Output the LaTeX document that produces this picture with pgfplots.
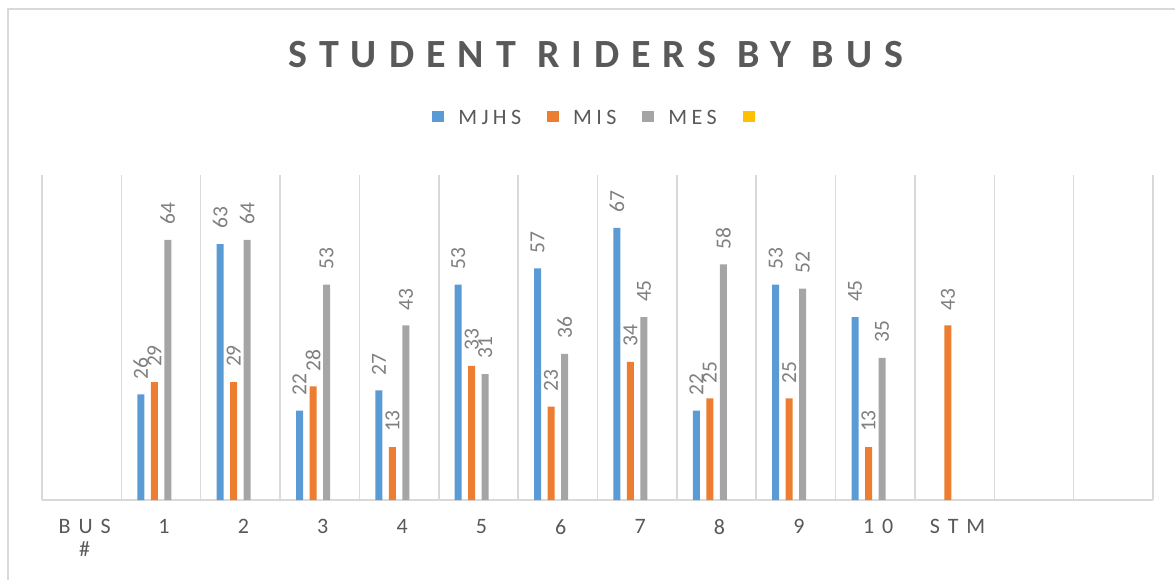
\documentclass[border=0pt]{standalone}
\usepackage{graphicx}
\usepackage{pgfplots}
\pgfplotsset{compat=1.18}
\usepackage{fontspec}
\setmainfont{Carlito}
\newfontfamily\titlefont[LetterSpace=30]{Carlito}
\newfontfamily\tickfont[LetterSpace=36]{Carlito}
\newfontfamily\legfont[LetterSpace=20]{Carlito}
\definecolor{cblue}{HTML}{5B9BD5}
\definecolor{corange}{HTML}{ED7D31}
\definecolor{cgray}{HTML}{A5A5A5}
\definecolor{cyellow}{HTML}{FFC000}
\definecolor{cgrid}{HTML}{D9D9D9}
\definecolor{ctext}{HTML}{595959}
\definecolor{clabel}{HTML}{7F7F7F}
\pgfplotsset{
  mybar/.style={ybar, bar width=7pt, draw=none,
    legend image code/.code={\fill[##1, draw=none] (0pt,-4pt) rectangle (12pt,7pt);}},
}
\begin{document}
\begin{tikzpicture}
\useasboundingbox (0,0) rectangle (1175pt,579pt);
\draw[cgrid, line width=2pt] (8pt,-10pt) -- (8pt,570pt) -- (1190pt,570pt);
\node[font=\titlefont\bfseries\fontsize{40}{42}\selectfont, text=ctext, inner sep=0pt] at (596pt,524pt) {STUDENT RIDERS BY BUS};
\begin{axis}[
  at={(42pt,79pt)}, anchor=south west,
  scale only axis, width=1111pt, height=325pt,
  xmin=-0.5, xmax=13.5, ymin=0, ymax=80,
  axis line style={draw=none},
  ytick=\empty,
  extra y ticks={0}, extra y tick labels={},
  extra y tick style={grid=major, major grid style={cgrid, line width=2pt}},
  xtick={0,...,11},
  xticklabels={{BUS\\\#},1,2,3,4,5,6,7,8,9,10,STM},
  minor xtick={-0.5,0.5,...,13.5},
  xminorgrids=true, minor grid style={cgrid, line width=1.5pt},
  major tick length=0pt, minor tick length=0pt,
  xticklabel style={font=\tickfont\fontsize{22}{23.5}\selectfont, text=ctext, align=center, inner sep=0pt, xshift=3pt},
  xticklabel shift=19pt,
  clip=false,
  /pgf/number format/assume math mode=true,
  nodes near coords={\rotatebox{90}{\pgfmathprintnumber{\pgfplotspointmeta}}},
  every node near coord/.append style={anchor=south, inner ysep=15pt, inner xsep=0pt, font=\fontsize{21.5}{24}\selectfont, text=clabel},
  legend columns=4,
  legend style={draw=none, fill=none, at={(0.5,1)}, anchor=center, xshift=4pt, yshift=57pt,
    font=\legfont\fontsize{22}{25}\selectfont, text=ctext,
    /tikz/every odd column/.append style={column sep=12pt},
    /tikz/every even column/.append style={column sep=24pt}},
]
\addplot[mybar, fill=cblue, bar shift=-20.25pt, every node near coord/.append style={xshift=-20.25pt}] coordinates {(1,26) (2,63) (3,22) (4,27) (5,53) (6,57) (7,67) (8,22) (9,53) (10,45)};
\addlegendentry{MJHS}
\addplot[mybar, fill=corange, bar shift=-6.75pt, every node near coord/.append style={xshift=-6.75pt}] coordinates {(1,29) (2,29) (3,28) (4,13) (5,33) (6,23) (7,34) (8,25) (9,25) (10,13) (11,43)};
\addlegendentry{MIS}
\addplot[mybar, fill=cgray, bar shift=6.75pt, every node near coord/.append style={xshift=6.75pt}] coordinates {(1,64) (2,64) (3,53) (4,43) (5,31) (6,36) (7,45) (8,58) (9,52) (10,35)};
\addlegendentry{MES}
\addlegendimage{mybar, fill=cyellow}
\addlegendentry{\mbox{}}
\end{axis}
\end{tikzpicture}
\end{document}
